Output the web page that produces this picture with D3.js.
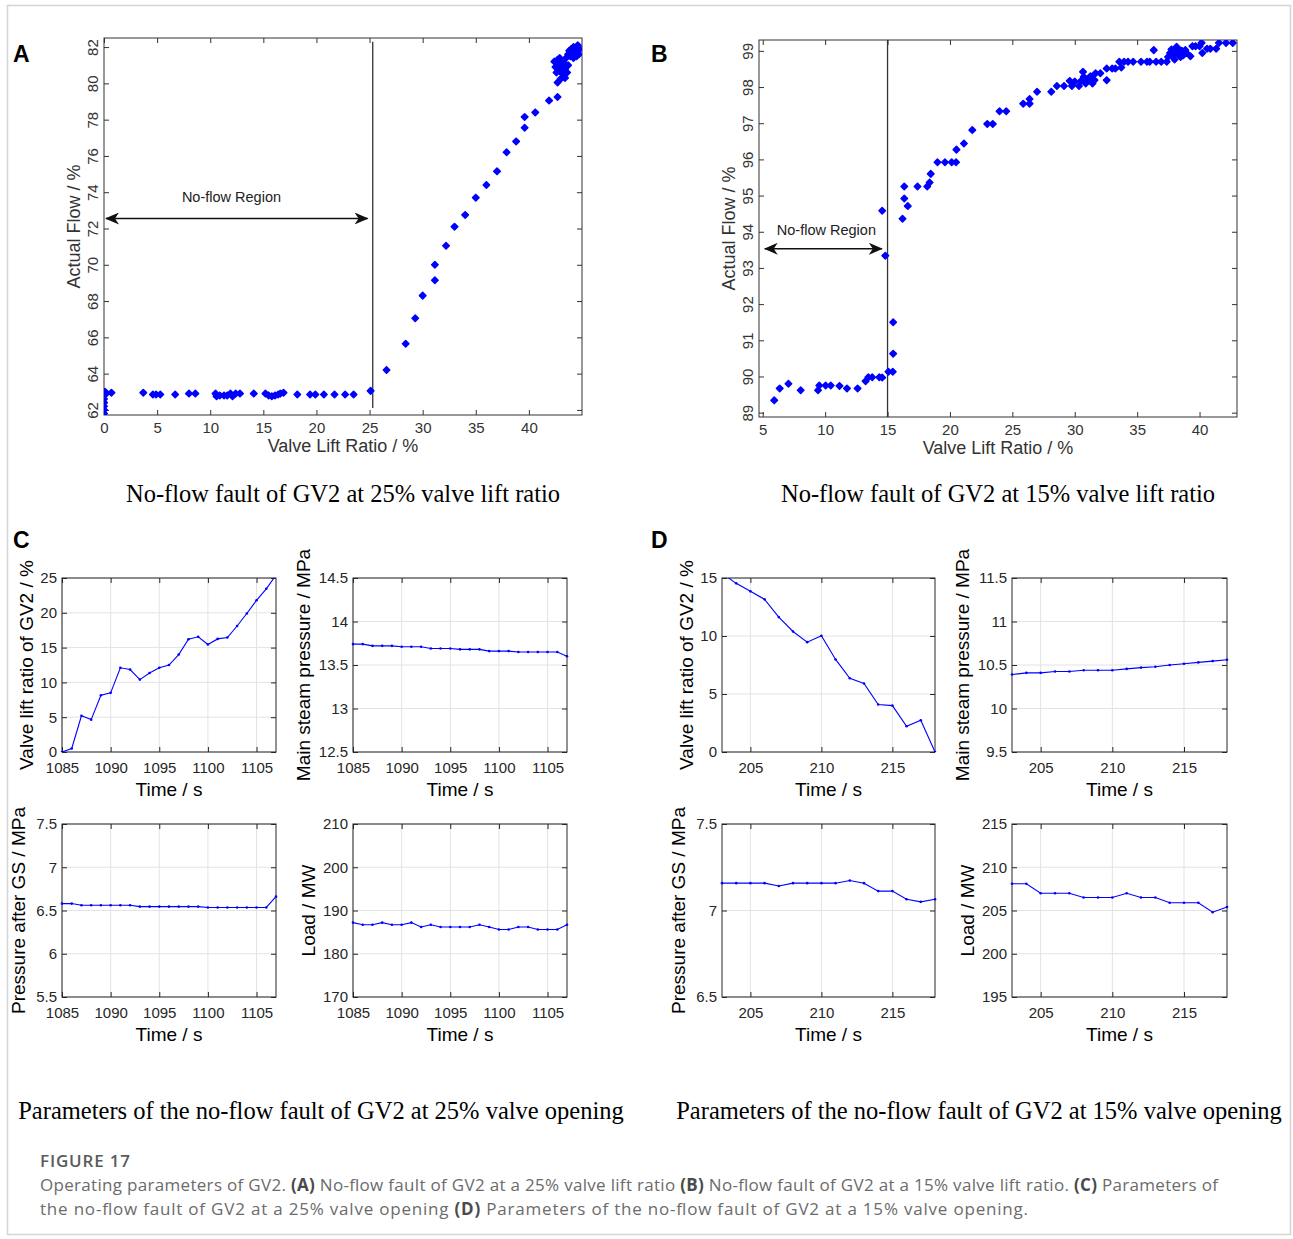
<!DOCTYPE html>
<html>
<head>
<meta charset="utf-8">
<script src="https://cdn.jsdelivr.net/npm/d3@7/dist/d3.min.js"></script>
<style>
  body { margin: 0; background: #fff; }
  svg { display: block; }
</style>
</head>
<body>
<div id="fig"></div>
<script>
// ---- Data ----

// Panel A: valve lift ratio (%) vs actual flow (%)
const scatterA = [
  [0, 61.8], [0, 62.0], [0, 62.2], [0, 62.4], [0, 62.6], [0, 62.8], [0.1, 63.0], [0.2, 62.9], [0.7, 62.95],
  [3.7, 62.95], [4.6, 62.85], [4.9, 62.85], [5.3, 62.85], [6.7, 62.85], [8.0, 62.9], [8.6, 62.9],
  [10.5, 62.9], [10.6, 62.75], [10.9, 62.8], [11.3, 62.8], [11.6, 62.8], [11.9, 62.9], [12.1, 62.75],
  [12.4, 62.9], [12.8, 62.9], [14.1, 62.9], [15.2, 62.9], [15.5, 62.8], [15.8, 62.75], [16.1, 62.8],
  [16.4, 62.85], [16.6, 62.9], [16.9, 62.95], [18.2, 62.85], [19.4, 62.85], [19.9, 62.85], [20.7, 62.85],
  [21.7, 62.85], [22.7, 62.85], [23.5, 62.85], [25.1, 63.05],
  [26.6, 64.2], [28.4, 65.65], [29.3, 67.05], [30.0, 68.3], [31.15, 69.15], [31.15, 70.0], [32.2, 71.05],
  [33.0, 72.1], [34.0, 72.75], [35.0, 73.7], [36.0, 74.4], [37.0, 75.15], [37.9, 76.2], [38.8, 76.8],
  [39.6, 77.55], [39.6, 78.15], [40.6, 78.4], [41.9, 79.05], [42.7, 79.25], [42.7, 80.05], [43.0, 80.25],
  [42.4, 81.2], [42.5, 80.9], [42.6, 80.6], [42.7, 81.3], [42.8, 81.0], [42.9, 80.7], [43.0, 81.2],
  [43.1, 80.9], [43.2, 80.5], [43.3, 81.1], [43.4, 80.8], [43.5, 81.4], [43.6, 80.6], [43.7, 81.0],
  [43.7, 81.6], [43.8, 81.8], [43.9, 81.5], [44.0, 81.9], [44.1, 81.7], [44.2, 82.0], [44.3, 81.6],
  [44.4, 81.9], [44.5, 81.5], [44.6, 81.8], [44.7, 81.6], [44.8, 81.9], [44.2, 81.4], [44.6, 82.1],
  [43.4, 80.3], [42.9, 81.4]
];

// Panel B
const scatterB = [
  [5.92, 89.34], [6.36, 89.67], [7.06, 89.8], [8.04, 89.62], [9.43, 89.62], [9.53, 89.75], [10.04, 89.75],
  [10.45, 89.75], [11.15, 89.74], [11.75, 89.67], [12.6, 89.67], [13.24, 89.87], [13.46, 89.98],
  [13.77, 89.98], [14.34, 89.98], [14.57, 89.97], [14.57, 94.58], [14.82, 93.34], [15.07, 90.13],
  [15.42, 90.13], [15.45, 90.63], [15.45, 91.5], [16.2, 94.36], [16.34, 94.92], [16.34, 95.25],
  [16.62, 94.71], [17.4, 95.25], [18.18, 95.25], [18.37, 95.36], [18.46, 95.6], [19.0, 95.92],
  [19.6, 95.92], [20.14, 95.92], [20.49, 95.92], [20.52, 96.27], [21.12, 96.44], [21.79, 96.81],
  [22.99, 96.98], [23.43, 96.98], [23.97, 97.33], [24.51, 97.33], [25.87, 97.54], [26.38, 97.67],
  [26.38, 97.54], [26.98, 97.87], [28.12, 97.87], [28.57, 98.03], [29.14, 98.03], [29.6, 98.17],
  [29.77, 98.03], [30.0, 98.15], [30.34, 98.03], [30.5, 98.17], [30.66, 98.42], [30.72, 98.28],
  [30.88, 98.1], [31.04, 98.19], [31.26, 98.3], [31.42, 98.1], [31.58, 98.19], [31.67, 98.38],
  [32.05, 98.38], [32.56, 98.51], [32.56, 98.19], [33.0, 98.51], [33.25, 98.51], [33.57, 98.7],
  [33.73, 98.54], [33.95, 98.7], [34.27, 98.7], [34.68, 98.7], [35.31, 98.7], [35.79, 98.7],
  [36.01, 98.7], [36.52, 98.7], [36.93, 98.7], [37.37, 98.7], [37.47, 98.83], [36.33, 99.02],
  [37.63, 98.94], [37.75, 99.04], [37.85, 98.85], [38.0, 98.76], [38.07, 98.97], [38.16, 99.11],
  [38.26, 98.91], [38.39, 99.02], [38.48, 98.83], [38.58, 99.0], [38.7, 98.88], [38.86, 99.02],
  [38.96, 98.94], [39.27, 98.85], [39.43, 99.13], [39.68, 99.13], [40.0, 99.13], [40.16, 99.22],
  [40.22, 98.94], [40.6, 99.06], [40.86, 99.06], [41.33, 99.06], [41.55, 99.22], [42.12, 99.22],
  [42.66, 99.22]
];

// Panel C: 25% valve opening, time 1085..1107 s
const timeC = [1085, 1086, 1087, 1088, 1089, 1090, 1091, 1092, 1093, 1094, 1095, 1096,
               1097, 1098, 1099, 1100, 1101, 1102, 1103, 1104, 1105, 1106, 1107];
const liftC = [0, 0.5, 5.2, 4.65, 8.15, 8.5, 12.1, 11.85, 10.4, 11.35, 12.1, 12.5,
               14.0, 16.2, 16.55, 15.45, 16.25, 16.45, 18.1, 19.9, 21.8, 23.45, 25.4];
const steamC = [13.74, 13.74, 13.72, 13.72, 13.72, 13.71, 13.71, 13.71, 13.69, 13.69, 13.69, 13.68,
                13.68, 13.68, 13.66, 13.66, 13.66, 13.65, 13.65, 13.65, 13.65, 13.65, 13.60];
const gsC = [6.58, 6.58, 6.56, 6.56, 6.56, 6.56, 6.56, 6.56, 6.545, 6.545, 6.545, 6.545,
             6.545, 6.545, 6.545, 6.535, 6.535, 6.535, 6.535, 6.535, 6.535, 6.535, 6.66];
const loadC = [187.2, 186.7, 186.7, 187.2, 186.7, 186.7, 187.2, 186.2, 186.7, 186.2, 186.2, 186.2,
               186.2, 186.7, 186.2, 185.6, 185.6, 186.2, 186.2, 185.6, 185.6, 185.6, 186.7];

// Panel D: 15% valve opening, time 203..218 s
const timeD = [203, 204, 205, 206, 207, 208, 209, 210, 211, 212, 213, 214, 215, 216, 217, 218];
const liftD = [15.4, 14.54, 13.85, 13.16, 11.63, 10.39, 9.47, 10.02, 7.98, 6.36, 5.9, 4.09, 4.0, 2.22, 2.74, 0];
const steamD = [10.39, 10.41, 10.41, 10.425, 10.425, 10.44, 10.44, 10.44, 10.455, 10.47, 10.48,
                10.50, 10.515, 10.53, 10.545, 10.56];
const gsD = [7.158, 7.158, 7.158, 7.158, 7.142, 7.158, 7.158, 7.158, 7.158, 7.173, 7.158,
             7.112, 7.112, 7.065, 7.05, 7.065];
const loadD = [208.1, 208.1, 207.0, 207.0, 207.0, 206.5, 206.5, 206.5, 207.0, 206.5, 206.5,
               205.9, 205.9, 205.9, 204.8, 205.4];

// tick labels
const ticksA_x = [0, 5, 10, 15, 20, 25, 30, 35, 40];
const ticksA_y = [62, 64, 66, 68, 70, 72, 74, 76, 78, 80, 82];
const ticksB_x = [5, 10, 15, 20, 25, 30, 35, 40];
const ticksB_y = [89, 90, 91, 92, 93, 94, 95, 96, 97, 98, 99];
const ticksC_x = [1085, 1090, 1095, 1100, 1105];
const ticksD_x = [205, 210, 215];

// ---- Drawing ----
const W = 1293, H = 1239;
const sans = "'Liberation Sans', Arial, sans-serif";
const serif = "'Liberation Serif', 'Times New Roman', serif";
const blue = "#0000ff";

const svg = d3.select("#fig").append("svg")
  .attr("width", W)
  .attr("height", H);

// outer frame of the figure card
svg.append("rect")
  .attr("x", 7.5).attr("y", 5.5)
  .attr("width", 1283).attr("height", 1229)
  .attr("fill", "none")
  .attr("stroke", "#d4d4d4")
  .attr("stroke-width", 1.5);

// inward ticks on all four sides, like a MATLAB box
function boxAxes(g, x, y, xt, yt, box, opt) {
  const ink = opt.ink;
  const tick = 5;
  const fmt = d => String(d);

  if (opt.grid) {
    g.append("g").selectAll("line").data(xt).enter().append("line")
      .attr("x1", d => x(d)).attr("x2", d => x(d))
      .attr("y1", box.top).attr("y2", box.bottom)
      .attr("stroke", "#e3e3e3");
    g.append("g").selectAll("line").data(yt).enter().append("line")
      .attr("x1", box.left).attr("x2", box.right)
      .attr("y1", d => y(d)).attr("y2", d => y(d))
      .attr("stroke", "#e3e3e3");
  }

  g.append("g")
    .attr("transform", `translate(0,${box.bottom})`)
    .call(d3.axisBottom(x).tickValues(xt).tickSize(-tick).tickPadding(opt.xPad)
      .tickSizeOuter(0).tickFormat(fmt));
  const leftAx = g.append("g")
    .attr("transform", `translate(${box.left},0)`)
    .call(d3.axisLeft(y).tickValues(yt).tickSize(-tick).tickPadding(opt.yPad)
      .tickSizeOuter(0).tickFormat(fmt));
  g.append("g")
    .attr("transform", `translate(0,${box.top})`)
    .call(d3.axisTop(x).tickValues(xt).tickSize(-tick).tickFormat("").tickSizeOuter(0));
  g.append("g")
    .attr("transform", `translate(${box.right},0)`)
    .call(d3.axisRight(y).tickValues(yt).tickSize(-tick).tickFormat("").tickSizeOuter(0));

  g.selectAll(".domain").remove();
  g.selectAll(".tick line").attr("stroke", ink);
  g.selectAll("g").attr("font-family", sans);
  g.selectAll(".tick text")
    .attr("fill", ink)
    .attr("font-family", sans)
    .attr("font-size", opt.fontSize);

  if (opt.rotateY) {
    leftAx.selectAll(".tick text")
      .attr("x", null).attr("dy", null)
      .attr("text-anchor", "middle")
      .attr("transform", `translate(${-opt.yPad},0) rotate(-90)`);
  }

  g.append("rect")
    .attr("x", box.left).attr("y", box.top)
    .attr("width", box.right - box.left)
    .attr("height", box.bottom - box.top)
    .attr("fill", "none")
    .attr("stroke", ink)
    .attr("stroke-width", 1);
}

function axisLabels(g, box, xl, yl, opt) {
  g.append("text")
    .attr("x", (box.left + box.right) / 2)
    .attr("y", box.bottom + opt.xOff)
    .attr("text-anchor", "middle")
    .attr("font-family", sans)
    .attr("font-size", opt.size)
    .attr("fill", opt.ink)
    .text(xl);
  g.append("text")
    .attr("transform", `translate(${box.left - opt.yOff},${(box.top + box.bottom) / 2}) rotate(-90)`)
    .attr("text-anchor", "middle")
    .attr("font-family", sans)
    .attr("font-size", opt.size)
    .attr("fill", opt.ink)
    .text(yl);
}

// ---- scatter panels A and B ----
function scatterPanel(cfg) {
  const g = svg.append("g");
  const box = cfg.box;
  const x = d3.scaleLinear().domain(cfg.xDomain).range([box.left, box.right]);
  const y = d3.scaleLinear().domain(cfg.yDomain).range([box.bottom, box.top]);

  boxAxes(g, x, y, cfg.xt, cfg.yt, box,
    { ink: "#333", fontSize: 15, xPad: 7, yPad: 6, rotateY: true, grid: false });
  axisLabels(g, box, "Valve Lift Ratio / %", "Actual Flow / %",
    { ink: "#333", size: 18, xOff: 37, yOff: 24 });

  const clipId = "clip" + cfg.name;
  g.append("clipPath").attr("id", clipId).append("rect")
    .attr("x", box.left).attr("y", box.top)
    .attr("width", box.right - box.left).attr("height", box.bottom - box.top);

  // fault boundary line
  g.append("line")
    .attr("x1", x(cfg.bound)).attr("x2", x(cfg.bound))
    .attr("y1", y(cfg.boundTop)).attr("y2", y(cfg.boundBottom))
    .attr("stroke", "#333").attr("stroke-width", 1.3);

  // no-flow region arrow
  g.append("line")
    .attr("x1", x(cfg.arrow[0]) + 2).attr("x2", x(cfg.arrow[1]) - 2)
    .attr("y1", y(cfg.arrowY)).attr("y2", y(cfg.arrowY))
    .attr("stroke", "#111").attr("stroke-width", 1.4)
    .attr("marker-start", "url(#arrowL)")
    .attr("marker-end", "url(#arrowR)");
  g.append("text")
    .attr("x", x(cfg.labelX)).attr("y", y(cfg.labelY))
    .attr("text-anchor", "middle")
    .attr("font-family", sans)
    .attr("font-size", 14.5)
    .attr("fill", "#222")
    .text("No-flow Region");

  g.append("g").attr("clip-path", `url(#${clipId})`)
    .selectAll("path").data(cfg.data).enter().append("path")
    .attr("d", d3.symbol(d3.symbolDiamond2, 26))
    .attr("transform", d => `translate(${x(d[0])},${y(d[1])})`)
    .attr("fill", blue)
    .attr("stroke", blue)
    .attr("stroke-width", 1.6)
    .attr("stroke-linejoin", "round");

  svg.append("text")
    .attr("x", cfg.tag[0]).attr("y", cfg.tag[1])
    .attr("font-family", sans)
    .attr("font-weight", "bold")
    .attr("font-size", 23)
    .attr("fill", "#000")
    .text(cfg.name);

  svg.append("text")
    .attr("x", (box.left + box.right) / 2).attr("y", 502)
    .attr("text-anchor", "middle")
    .attr("font-family", serif)
    .attr("font-size", 24.5)
    .attr("fill", "#000")
    .text(cfg.caption);
}

const defs = svg.append("defs");
defs.append("marker")
  .attr("id", "arrowR").attr("viewBox", "0 -6 14 12")
  .attr("refX", 13).attr("refY", 0)
  .attr("markerWidth", 14).attr("markerHeight", 12)
  .attr("markerUnits", "userSpaceOnUse")
  .attr("orient", "auto")
  .append("path").attr("d", "M0,-6 L14,0 L0,6 L4,0 Z").attr("fill", "#111");
defs.append("marker")
  .attr("id", "arrowL").attr("viewBox", "0 -6 14 12")
  .attr("refX", 1).attr("refY", 0)
  .attr("markerWidth", 14).attr("markerHeight", 12)
  .attr("markerUnits", "userSpaceOnUse")
  .attr("orient", "auto")
  .append("path").attr("d", "M14,-6 L0,0 L14,6 L10,0 Z").attr("fill", "#111");

scatterPanel({
  name: "A", tag: [13, 62],
  box: { left: 104, right: 582, top: 38, bottom: 415 },
  xDomain: [0, 45], yDomain: [61.72, 82.5],
  xt: ticksA_x, yt: ticksA_y, data: scatterA,
  bound: 25.3, boundTop: 82.3, boundBottom: 62.1,
  arrow: [0, 25], arrowY: 72.55, labelX: 12.0, labelY: 73.45,
  caption: "No-flow fault of GV2 at 25% valve lift ratio"
});

scatterPanel({
  name: "B", tag: [651, 62],
  box: { left: 759, right: 1237, top: 40, bottom: 417 },
  xDomain: [4.7, 43], yDomain: [88.88, 99.3],
  xt: ticksB_x, yt: ticksB_y, data: scatterB,
  bound: 15.0, boundTop: 99.3, boundBottom: 88.88,
  arrow: [5, 14.7], arrowY: 93.53, labelX: 10.1, labelY: 93.9,
  caption: "No-flow fault of GV2 at 15% valve lift ratio"
});

// ---- time-series subplots C and D ----
function linePanel(cfg) {
  const g = svg.append("g");
  const box = cfg.box;
  const x = d3.scaleLinear().domain(cfg.xDomain).range([box.left, box.right]);
  const y = d3.scaleLinear().domain(cfg.yDomain).range([box.bottom, box.top]);
  const yt = d3.range(cfg.yDomain[0], cfg.yDomain[1] + cfg.yStep / 2, cfg.yStep)
    .map(v => +v.toFixed(2));

  boxAxes(g, x, y, cfg.xt, yt, box,
    { ink: "#262626", fontSize: 15, xPad: 10, yPad: 5, rotateY: false, grid: true });
  axisLabels(g, box, "Time / s", cfg.ylabel,
    { ink: "#000", size: 19, xOff: 44, yOff: cfg.yOff });

  const clipId = "clip" + cfg.id;
  g.append("clipPath").attr("id", clipId).append("rect")
    .attr("x", box.left - 2).attr("y", box.top)
    .attr("width", box.right - box.left + 4).attr("height", box.bottom - box.top);

  const pts = cfg.t.map((t, i) => [t, cfg.v[i]]);
  const line = d3.line().x(d => x(d[0])).y(d => y(d[1]));
  const inner = g.append("g").attr("clip-path", `url(#${clipId})`);
  inner.append("path")
    .datum(pts)
    .attr("fill", "none")
    .attr("stroke", blue)
    .attr("stroke-width", 1.1)
    .attr("d", line);
  inner.selectAll("circle").data(pts).enter().append("circle")
    .attr("cx", d => x(d[0]))
    .attr("cy", d => y(d[1]))
    .attr("r", 1.3)
    .attr("fill", blue);
}

const colL = [62, 276], colR = [353, 567], colDL = [722, 935], colDR = [1012, 1227];
const rowT = [578, 752], rowB = [824, 997];
const mk = (c, r) => ({ left: c[0], right: c[1], top: r[0], bottom: r[1] });

linePanel({ id: "c1", box: mk(colL, rowT), xDomain: [1085, 1107], xt: ticksC_x, t: timeC, v: liftC,
  yDomain: [0, 25], yStep: 5, ylabel: "Valve lift ratio of GV2 / %", yOff: 29 });
linePanel({ id: "c2", box: mk(colR, rowT), xDomain: [1085, 1107], xt: ticksC_x, t: timeC, v: steamC,
  yDomain: [12.5, 14.5], yStep: 0.5, ylabel: "Main steam pressure / MPa", yOff: 43 });
linePanel({ id: "c3", box: mk(colL, rowB), xDomain: [1085, 1107], xt: ticksC_x, t: timeC, v: gsC,
  yDomain: [5.5, 7.5], yStep: 0.5, ylabel: "Pressure after GS / MPa", yOff: 37 });
linePanel({ id: "c4", box: mk(colR, rowB), xDomain: [1085, 1107], xt: ticksC_x, t: timeC, v: loadC,
  yDomain: [170, 210], yStep: 10, ylabel: "Load / MW", yOff: 38 });

linePanel({ id: "d1", box: mk(colDL, rowT), xDomain: [203, 218], xt: ticksD_x, t: timeD, v: liftD,
  yDomain: [0, 15], yStep: 5, ylabel: "Valve lift ratio of GV2 / %", yOff: 29 });
linePanel({ id: "d2", box: mk(colDR, rowT), xDomain: [203, 218], xt: ticksD_x, t: timeD, v: steamD,
  yDomain: [9.5, 11.5], yStep: 0.5, ylabel: "Main steam pressure / MPa", yOff: 43 });
linePanel({ id: "d3", box: mk(colDL, rowB), xDomain: [203, 218], xt: ticksD_x, t: timeD, v: gsD,
  yDomain: [6.5, 7.5], yStep: 0.5, ylabel: "Pressure after GS / MPa", yOff: 37 });
linePanel({ id: "d4", box: mk(colDR, rowB), xDomain: [203, 218], xt: ticksD_x, t: timeD, v: loadD,
  yDomain: [195, 215], yStep: 5, ylabel: "Load / MW", yOff: 38 });

// panel tags and sub-captions
svg.append("text").attr("x", 13).attr("y", 548)
  .attr("font-family", sans).attr("font-weight", "bold").attr("font-size", 23).text("C");
svg.append("text").attr("x", 651).attr("y", 548)
  .attr("font-family", sans).attr("font-weight", "bold").attr("font-size", 23).text("D");

svg.append("text").attr("x", 321).attr("y", 1119)
  .attr("text-anchor", "middle").attr("font-family", serif).attr("font-size", 24.5)
  .text("Parameters of the no-flow fault of GV2 at 25% valve opening");
svg.append("text").attr("x", 979).attr("y", 1119)
  .attr("text-anchor", "middle").attr("font-family", serif).attr("font-size", 24.5)
  .text("Parameters of the no-flow fault of GV2 at 15% valve opening");

// figure caption
const capFont = "'Open Sans', 'Noto Sans', sans-serif";
svg.append("text").attr("x", 40).attr("y", 1167)
  .attr("font-family", capFont).attr("font-size", 17).attr("font-weight", 600)
  .attr("fill", "#5a5a5a")
  .attr("textLength", 90).attr("lengthAdjust", "spacing")
  .text("FIGURE 17");

const capLines = [
  [["Operating parameters of GV2. ", false], ["(A)", true], [" No-flow fault of GV2 at a 25% valve lift ratio ", false],
   ["(B)", true], [" No-flow fault of GV2 at a 15% valve lift ratio. ", false], ["(C)", true], [" Parameters of", false]],
  [["the no-flow fault of GV2 at a 25% valve opening ", false], ["(D)", true],
   [" Parameters of the no-flow fault of GV2 at a 15% valve opening.", false]]
];
const capWidths = [1178, 988];
capLines.forEach((segs, i) => {
  const t = svg.append("text")
    .attr("x", 40).attr("y", 1191 + i * 24)
    .attr("font-family", capFont).attr("font-size", 17)
    .attr("fill", "#6b6b6b")
    .attr("textLength", capWidths[i]).attr("lengthAdjust", "spacing")
    .attr("xml:space", "preserve");
  segs.forEach(s => {
    t.append("tspan")
      .attr("font-weight", s[1] ? 700 : 400)
      .attr("fill", s[1] ? "#4a4a4a" : "#6b6b6b")
      .text(s[0]);
  });
});
</script>
</body>
</html>
